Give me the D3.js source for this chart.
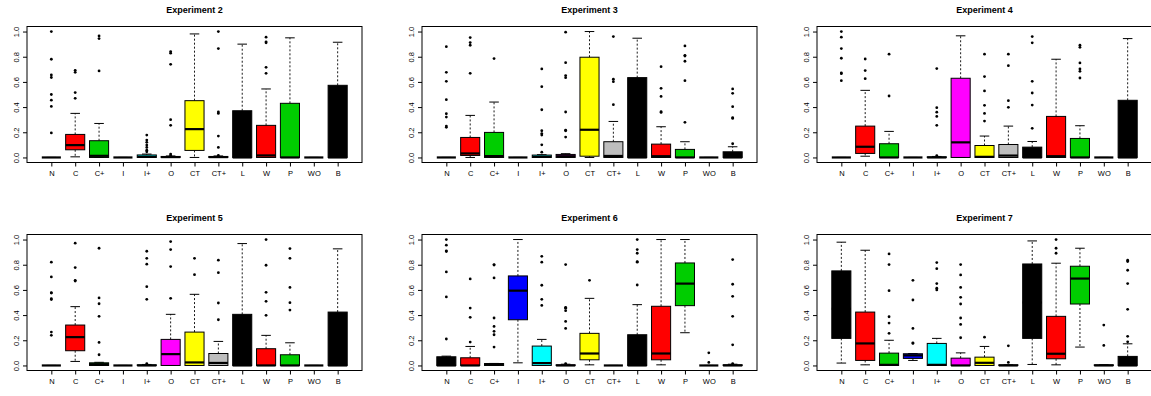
<!DOCTYPE html>
<html>
<head>
<meta charset="utf-8">
<script src="https://cdn.jsdelivr.net/npm/d3@7"></script>
<style>
    body { margin: 0; background: #fff; }
    svg { display: block; font-family: "Liberation Sans", Arial, Helvetica, sans-serif; }
</style>
</head>
<body>
<div id="chart"></div>
<script>

// categories + box colours (same for every panel)
const categories = ["N", "C", "C+", "I", "I+", "O", "CT", "CT+", "L", "W", "P", "WO", "B"];
const boxColors = ["#000000", "#ff0000", "#00cd00", "#0000ff", "#00ffff", "#ff00ff", "#ffff00",
                   "#bebebe", "#000000", "#ff0000", "#00cd00", "#000000", "#000000"];
const yTicks = [0, 0.2, 0.4, 0.6, 0.8, 1.0];

// per box: [lower whisker, q1, median, q3, upper whisker]
const exp2Stats = [[0,0,0,0,0], [0.005,0.061,0.098,0.183,0.35], [0,0,0.013,0.133,0.27], [0,0,0,0,0],
    [0,0,0.005,0.02,0.027], [0,0,0.003,0.008,0.012], [0,0.056,0.225,0.451,0.981], [0,0,0.003,0.008,0.012],
    [0,0,0,0.371,0.9], [0,0,0.016,0.255,0.544], [0,0,0,0.43,0.95], [0,0,0,0,0], [0,0,0,0.573,0.915]];
const exp2Out = [[1.0,0.78,0.655,0.635,0.5,0.455,0.405,0.195], [0.692,0.676,0.515,0.47], [0.965,0.944,0.687], [],
    [0.178,0.138,0.12,0.098,0.08,0.058,0.045], [0.841,0.828,0.74,0.30,0.255,0.027,0.016], [],
    [1.0,0.865,0.361,0.35,0.17,0.08,0.016], [], [0.955,0.918,0.91,0.716,0.668], [], [], []];

const exp3Stats = [[0,0,0,0,0], [0,0.016,0.032,0.159,0.334], [0,0,0.011,0.199,0.44], [0,0,0,0,0],
    [0,0,0.005,0.019,0.022], [0,0,0.01,0.024,0.03], [0,0.01,0.22,0.796,1.0], [0,0,0.012,0.125,0.286],
    [0,0,0,0.634,0.947], [0,0,0.01,0.106,0.244], [0,0,0,0.064,0.125], [0,0,0,0,0], [0,0,0,0.045,0.085]];
const exp3Out = [[0.88,0.676,0.605,0.459,0.347,0.321,0.249,0.239], [0.952,0.912,0.891,0.668], [0.785], [],
    [0.703,0.562,0.379,0.212,0.19,0.178,0.10,0.042], [0.995,0.753,0.65,0.634,0.361,0.217,0.212,0.162], [],
    [0.96,0.621,0.602,0.419], [], [0.721,0.549,0.485,0.363,0.358], [0.886,0.811,0.805,0.764,0.61,0.279], [],
    [0.544,0.509,0.403,0.316,0.31,0.109]];

const exp4Stats = [[0,0,0,0,0], [0.01,0.032,0.085,0.249,0.533], [0,0,0,0.109,0.207], [0,0,0,0,0],
    [0,0,0,0.005,0.008], [0,0,0.12,0.629,0.966], [0,0,0.005,0.095,0.17], [0,0,0.015,0.103,0.249],
    [0,0,0,0.082,0.127], [0,0,0.01,0.326,0.78], [0,0,0,0.151,0.252], [0,0,0,0,0], [0,0,0,0.454,0.944]];
const exp4Out = [[1.0,0.955,0.865,0.788,0.671,0.665,0.61], [0.782,0.69,0.626], [0.82,0.488], [],
    [0.706,0.395,0.36,0.326,0.255,0.015], [], [0.82,0.642,0.528,0.414,0.35,0.289], [0.82,0.729,0.451,0.398],
    [0.96,0.91,0.605,0.512,0.416,0.231], [], [0.891,0.875,0.751,0.703,0.684,0.631], [], []];

const exp5Stats = [[0,0,0,0,0], [0.032,0.117,0.225,0.321,0.467], [0,0,0.01,0.021,0.025], [0,0,0,0,0],
    [0,0,0,0.005,0.008], [0,0,0.09,0.207,0.406], [0,0,0.024,0.265,0.565], [0,0,0.02,0.095,0.191],
    [0,0,0,0.406,0.968], [0,0,0,0.133,0.239], [0,0,0,0.085,0.18], [0,0,0,0,0], [0,0,0,0.424,0.926]];
const exp5Out = [[0.82,0.703,0.578,0.575,0.53,0.523,0.265,0.239], [0.971,0.777,0.676,0.67],
    [0.931,0.536,0.49,0.39,0.183,0.085], [], [0.907,0.851,0.804,0.626,0.525,0.015], [0.984,0.92,0.785,0.533],
    [0.851,0.721], [0.836,0.737,0.496,0.363], [], [1.0,0.796,0.581,0.509,0.398], [0.928,0.851,0.62,0.499,0.44],
    [], []];

const exp6Stats = [[0,0,0,0.069,0.074], [0,0,0,0.061,0.151], [0,0,0.01,0.015,0.016], [0.021,0.363,0.594,0.711,1.0],
    [0,0,0.019,0.154,0.207], [0,0,0,0.005,0.01], [0.005,0.045,0.095,0.255,0.533], [0,0,0,0,0],
    [0,0,0,0.244,0.483], [0.005,0.045,0.095,0.47,1.0], [0.26,0.475,0.65,0.814,1.0], [0,0,0,0,0], [0,0,0,0.005,0.01]];
const exp6Out = [[1.0,0.955,0.91,0.905,0.743,0.544,0.21], [0.687,0.456,0.382,0.186],
    [0.801,0.797,0.695,0.377,0.31,0.271,0.244,0.146], [], [0.867,0.82,0.637,0.525,0.477],
    [0.801,0.462,0.455,0.435,0.35,0.294,0.015], [0.676], [], [1.0,0.92,0.891,0.825,0.82,0.639], [], [],
    [0.10,0.024], [0.841,0.645,0.549,0.39,0.164,0.015]];

const exp7Stats = [[0.019,0.215,0.45,0.751,0.979], [0.005,0.04,0.175,0.424,0.915], [0,0,0.005,0.098,0.2],
    [0.04,0.056,0.08,0.093,0.095], [0,0,0.005,0.175,0.215], [0,0,0,0.058,0.1], [0,0,0.021,0.066,0.151],
    [0,0,0,0.005,0.005], [0.008,0.215,0.5,0.806,0.989], [0.005,0.053,0.093,0.39,0.812],
    [0.146,0.488,0.69,0.788,0.931], [0,0,0,0.005,0.005], [0,0,0,0.072,0.172]];
const exp7Out = [[], [], [0.886,0.801,0.594,0.387,0.337,0.255], [0.676,0.52,0.294,0.18,0.175],
    [0.817,0.769,0.65,0.613,0.60], [0.801,0.719,0.62,0.541,0.488,0.377,0.326,0.22], [0.225], [0.156,0.024],
    [], [1.0,0.931,0.891], [], [0.321,0.159], [0.836,0.825,0.756,0.65,0.446,0.231,0.188]];

const panelTitles = ["Experiment 2", "Experiment 3", "Experiment 4", "Experiment 5", "Experiment 6", "Experiment 7"];


/*************************
***** SET DIMENSIONS *****
*************************/

const width = 1151;
const height = 396;
const colLeft = [27, 422, 817];   // left edge of each plot frame
const rowTop = [26.5, 234.5];     // top edge of each plot frame
const plotWidth = 335;
const plotHeight = 136;

const svg = d3.select("#chart")
    .append("svg")
    .attr("width", width)
    .attr("height", height);

const panels = [
    {stats: exp2Stats, out: exp2Out}, {stats: exp3Stats, out: exp3Out}, {stats: exp4Stats, out: exp4Out},
    {stats: exp5Stats, out: exp5Out}, {stats: exp6Stats, out: exp6Out}, {stats: exp7Stats, out: exp7Out}
];

panels.forEach((p, i) => drawPanel(panelTitles[i], p.stats, p.out, colLeft[i % 3], rowTop[Math.floor(i / 3)]));


function drawPanel(title, stats, outs, left, top) {

    // R style: categories at 1..13, range padded 4%
    const x = d3.scaleLinear().domain([0.5 - 0.52, 13.5 + 0.52]).range([left, left + plotWidth]);
    const y = d3.scaleLinear().domain([-0.04, 1.04]).range([top + plotHeight, top]);
    const halfBox = (x(1.4) - x(0.6)) / 2;
    const halfCap = halfBox / 2;

    const g = svg.append("g").attr("class", "panel");

    /***** TITLE *****/
    g.append("text")
        .attr("x", left + plotWidth / 2)
        .attr("y", top - 13.5)
        .attr("text-anchor", "middle")
        .style("font-size", "9px")
        .style("font-weight", "bold")
        .text(title);

    /***** AXES *****/
    const yAxis = g.append("g")
        .attr("transform", `translate(${left},0)`)
        .call(d3.axisLeft(y).tickValues(yTicks).tickSize(4).tickSizeOuter(0).tickFormat(d3.format(".1f")));
    yAxis.select(".domain").remove();
    yAxis.selectAll("text")
        .attr("transform", "rotate(-90)")
        .attr("x", 0)
        .attr("y", -8.5)
        .attr("dy", 0)
        .attr("text-anchor", "middle")
        .style("font-size", "7.5px")
        .attr("fill", "#000");

    const xAxis = g.append("g")
        .attr("transform", `translate(0,${top + plotHeight})`)
        .call(d3.axisBottom(x).tickValues(d3.range(1, 14)).tickSize(4).tickSizeOuter(0)
            .tickFormat(d => categories[d - 1]));
    xAxis.select(".domain").remove();
    xAxis.selectAll("text")
        .attr("y", 13.5)
        .attr("dy", 0)
        .style("font-size", "7.5px")
        .attr("fill", "#000");

    /***** BOXES *****/
    const data = stats.map((s, k) => ({pos: k + 1, lo: s[0], q1: s[1], med: s[2], q3: s[3], hi: s[4],
        out: outs[k], color: boxColors[k]}));

    const box = g.selectAll(".box")
        .data(data)
        .enter()
        .append("g")
        .attr("class", "box");

    // whiskers (dashed)
    box.filter(d => d.hi > d.q3).append("line")
        .attr("x1", d => x(d.pos)).attr("x2", d => x(d.pos))
        .attr("y1", d => y(d.q3)).attr("y2", d => y(d.hi))
        .attr("stroke", "#000").attr("stroke-width", 0.9).attr("stroke-dasharray", "2,2");
    box.filter(d => d.lo < d.q1).append("line")
        .attr("x1", d => x(d.pos)).attr("x2", d => x(d.pos))
        .attr("y1", d => y(d.q1)).attr("y2", d => y(d.lo))
        .attr("stroke", "#000").attr("stroke-width", 0.9).attr("stroke-dasharray", "2,2");

    // staples
    ["hi", "lo"].forEach(k => {
        box.append("line")
            .attr("x1", d => x(d.pos) - halfCap).attr("x2", d => x(d.pos) + halfCap)
            .attr("y1", d => y(d[k])).attr("y2", d => y(d[k]))
            .attr("stroke", "#000").attr("stroke-width", 1);
    });

    box.append("rect")
        .attr("x", d => x(d.pos) - halfBox)
        .attr("width", 2 * halfBox)
        .attr("y", d => y(d.q3))
        .attr("height", d => y(d.q1) - y(d.q3))
        .attr("fill", d => d.color)
        .attr("stroke", "#000")
        .attr("stroke-width", 1);

    // median
    box.append("line")
        .attr("x1", d => x(d.pos) - halfBox).attr("x2", d => x(d.pos) + halfBox)
        .attr("y1", d => y(d.med)).attr("y2", d => y(d.med))
        .attr("stroke", "#000").attr("stroke-width", 2.2);

    // outliers
    box.selectAll("circle")
        .data(d => d.out.map(v => ({pos: d.pos, v: v})))
        .enter()
        .append("circle")
        .attr("cx", d => x(d.pos))
        .attr("cy", d => y(d.v))
        .attr("r", 1.4)
        .attr("fill", "#000");

    /***** FRAME *****/
    g.append("rect")
        .attr("x", left)
        .attr("y", top)
        .attr("width", plotWidth)
        .attr("height", plotHeight)
        .attr("fill", "none")
        .attr("stroke", "#000")
        .attr("stroke-width", 1);
}

</script>
</body>
</html>
